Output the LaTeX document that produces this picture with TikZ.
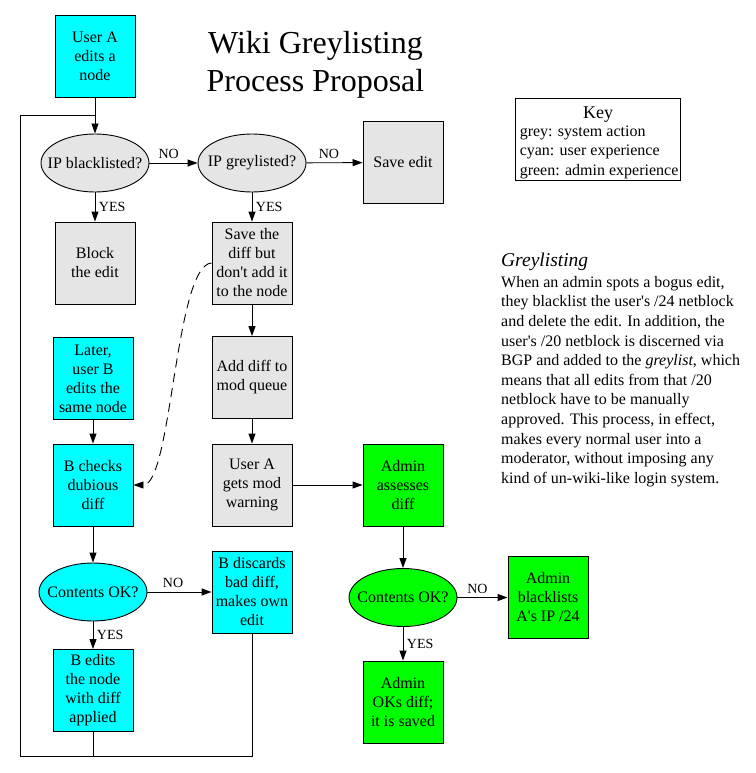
\documentclass[tikz,border=0pt]{standalone}
\usepackage{fontspec}
\setmainfont{Liberation Serif}
\usetikzlibrary{shapes.geometric,arrows.meta}
\definecolor{sysgrey}{RGB}{229,229,229}
\definecolor{usrcyan}{RGB}{0,255,255}
\definecolor{admgreen}{RGB}{0,255,0}
\newcommand{\apos}{\textquotesingle}

\begin{document}
\begin{tikzpicture}[x=1pt,y=-1pt,>={Triangle[length=10pt,width=7pt]},line width=0.9pt]
	\tikzstyle{bx}=[draw,rectangle,minimum width=80pt,minimum height=82pt,inner sep=1pt,align=center,font=\fontsize{16}{19}\selectfont]
	\tikzstyle{qq}=[draw,ellipse,minimum width=108pt,minimum height=58pt,inner xsep=-10pt,inner ysep=0pt,font=\fontsize{16}{19}\selectfont]
	\tikzstyle{sys}=[fill=sysgrey]
	\tikzstyle{usr}=[fill=usrcyan]
	\tikzstyle{adm}=[fill=admgreen]
	\tikzstyle{lbl}=[font=\fontsize{14}{16}\selectfont,inner sep=3.5pt]
	\tikzstyle{txt}=[font=\fontsize{16}{19.6}\selectfont,inner sep=0pt]
	\useasboundingbox (0,0) rectangle (755,773);
	\node[align=center,anchor=north,inner sep=0pt,font=\fontsize{32}{37.5}\selectfont] (title) at (315.5,31) {Wiki Greylisting\\Process Proposal};
	% left column
	\node[bx,usr] (userA) at (95,56) {User A\\edits a\\node};
	\node[qq,sys] (blk) at (95,163) {IP blacklisted?};
	\node[bx,sys] (block) at (95,263) {Block\\the edit};
	\node[bx,usr] (later) at (93,378.5) {Later,\\user B\\edits the\\same node};
	\node[bx,usr] (check) at (93,485) {B checks\\dubious\\diff};
	\node[qq,usr] (okB) at (93,592) {Contents OK?};
	\node[bx,usr] (bedit) at (93,690.5) {B edits\\the node\\with diff\\applied};
	% middle column
	\node[qq,sys] (grey) at (252,163) {IP greylisted?};
	\node[bx,sys] (sdiff) at (252,263) {Save the\\diff but\\don\apos t add it\\to the node};
	\node[bx,sys] (queue) at (252,377.5) {Add diff to\\mod queue};
	\node[bx,sys] (warn) at (252,485) {User A\\gets mod\\warning};
	\node[bx,usr] (discard) at (252,592) {B discards\\bad diff,\\makes own\\edit};
	% right column
	\node[bx,sys] (save) at (403,162.5) {Save edit};
	\node[bx,adm] (assess) at (403,485) {Admin\\assesses\\diff};
	\node[qq,adm] (okA) at (403,597.5) {Contents OK?};
	\node[bx,adm] (saved) at (403,702) {Admin\\OKs diff;\\it is saved};
	\node[bx,adm] (ban) at (548,597.5) {Admin\\blacklists\\A\apos s IP /24};
	% edges
	\draw[->] (userA) -- (blk);
	\draw[->] (blk) -- node[lbl,above,pos=0.4]{NO} (grey);
	\draw[->] (grey) -- node[lbl,above,pos=0.4]{NO} (save);
	\draw[->] (blk) -- node[lbl,right]{YES} (block);
	\draw[->] (grey) -- node[lbl,right]{YES} (sdiff);
	\draw[->] (sdiff) -- (queue);
	\draw[->] (queue) -- (warn);
	\draw[->] (warn) -- (assess);
	\draw[->] (later) -- (check);
	\draw[->] (check) -- (okB);
	\draw[->] (okB) -- node[lbl,above,pos=0.4]{NO} (discard);
	\draw[->] (okB) -- node[lbl,right]{YES} (bedit);
	\draw[->] (assess) -- (okA);
	\draw[->] (okA) -- node[lbl,above,pos=0.4]{NO} (ban);
	\draw[->] (okA) -- node[lbl,right]{YES} (saved);
	\draw[->,dash pattern=on 9pt off 6pt] (sdiff.west) .. controls (175,265) and (172,485) .. (check.east);
	\coordinate (cnr) at (20,756);
	\coordinate (top) at (20,115);
	\draw (discard.south) |- (cnr) -- (top) -- (top -| userA);
	\draw (bedit.south) -- (bedit.south |- cnr);
	% key
	\node[draw,minimum width=165pt,minimum height=82pt] (key) at (598,139) {};
	\node[anchor=base,inner sep=0pt,font=\fontsize{18}{20}\selectfont] (keyhead) at (598,118) {Key};
	\foreach \yy/\tt [count=\i] in {136.7/grey: system action,155.7/cyan: user experience,175/green: admin experience}
		\node[txt,anchor=base west] (key\i) at (519.3,\yy) {\tt};
	% note
	\node[anchor=base west,inner sep=0pt,font=\fontsize{19.5}{23}\selectfont\itshape] (head) at (500.7,266) {Greylisting};
	\node[txt,anchor=north west,align=left] (note) at (500.7,275.8) {When an admin spots a bogus edit,\\they blacklist the user\apos s /24 netblock\\and delete the edit. In addition, the\\user\apos s /20 netblock is discerned via\\BGP and added to the \textit{greylist}, which\\means that all edits from that /20\\netblock have to be manually\\approved. This process, in effect,\\makes every normal user into a\\moderator, without imposing any\\kind of un-wiki-like login system.};
\end{tikzpicture}
\end{document}
